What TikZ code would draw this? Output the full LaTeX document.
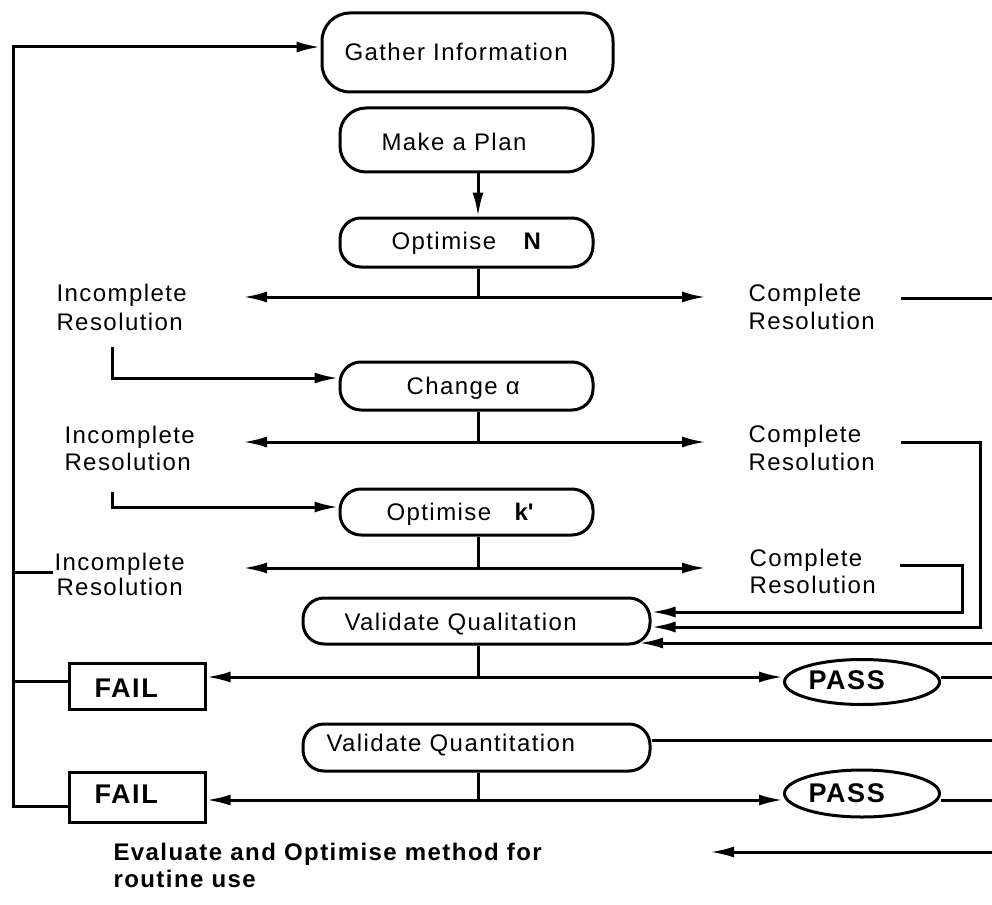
\documentclass[tikz,border=0pt]{standalone}
\usepackage{fontspec}
\setmainfont{Liberation Sans}[LetterSpace=6]
\usetikzlibrary{arrows.meta,shapes.geometric}
\begin{document}
\begin{tikzpicture}[x=1pt,y=-1pt,line width=3pt,
  arr/.style={-{Latex[length=24pt,width=11pt]}},
  rbox/.style 2 args={draw,rounded corners=21pt,minimum width=#1,minimum height=#2,inner sep=0pt},
  sbox/.style 2 args={draw,minimum width=#1,minimum height=#2,inner sep=0pt},
  oval/.style 2 args={draw,ellipse,minimum width=#1,minimum height=#2,inner sep=0pt},
  txt/.style={inner sep=0pt,anchor=base west,font=\fontsize{24}{28}\selectfont},
  btxt/.style={inner sep=0pt,anchor=base west,font=\fontsize{24}{28}\selectfont\bfseries},
  bigtxt/.style={inner sep=0pt,anchor=base west,font=\fontsize{27}{30}\selectfont\bfseries}]
\useasboundingbox (0,0) rectangle (992,904);

% boxes
\node[rbox={291pt}{79pt},rounded corners=28pt] (gi) at (467.5,52.5) {};
\node[txt] (git) at (343,61) {Gather Information};
\node[rbox={253pt}{64pt},rounded corners=26pt] (mp) at (466.5,140) {};
\node[txt] (mpt) at (380,151) {Make a Plan};
\node[rbox={253pt}{49pt}] (on) at (466.5,242.5) {};
\node[txt] (ont) at (390,249) {Optimise};
\node[btxt] (onn) at (522,249) {N};
\node[rbox={253pt}{48pt}] (ca) at (466.5,386) {};
\node[txt] (cat) at (405,394) {Change α};
\node[rbox={253pt}{46pt}] (ok) at (466.5,512) {};
\node[txt] (okt) at (385,520) {Optimise};
\node[btxt] (okk) at (513,520) {k\textquotesingle};
\node[rbox={347pt}{46pt}] (vl) at (476.5,621) {};
\node[txt] (vlt) at (343,630) {Validate Qualitation};
\node[rbox={347pt}{47pt}] (vn) at (476.5,747.5) {};
\node[txt] (vnt) at (325,751) {Validate Quantitation};
\node[sbox={136pt}{46pt}] (f1) at (137,686) {};
\node[bigtxt] (f1t) at (93,697) {FAIL};
\node[sbox={136pt}{50pt}] (f2) at (137,797) {};
\node[bigtxt] (f2t) at (93,803) {FAIL};
\node[oval={155pt}{45pt}] (p1) at (862,682) {};
\node[bigtxt] (p1t) at (807,689) {PASS};
\node[oval={155pt}{47pt}] (p2) at (862,793.5) {};
\node[bigtxt] (p2t) at (807,802) {PASS};

% labels
\node[txt] (i1a) at (55,301) {Incomplete};
\node[txt] (i1b) at (55,330) {Resolution};
\node[txt] (i2a) at (63,443) {Incomplete};
\node[txt] (i2b) at (63,470) {Resolution};
\node[txt] (i3a) at (53,570) {Incomplete};
\node[txt] (i3b) at (55,595) {Resolution};
\node[txt] (c1a) at (747,301) {Complete};
\node[txt] (c1b) at (747,329) {Resolution};
\node[txt] (c2a) at (747,442) {Complete};
\node[txt] (c2b) at (747,470) {Resolution};
\node[txt] (c3a) at (748,566) {Complete};
\node[txt] (c3b) at (748,593) {Resolution};
\node[btxt] (e1) at (112,860) {Evaluate and Optimise method for};
\node[btxt] (e2) at (112,887) {routine use};

% helper coordinates
\coordinate (cx) at (478,0);
\coordinate (j1) at (478,297);
\coordinate (l1) at (243,297);
\coordinate (r1) at (706,297);
\coordinate (j2) at (478,442);
\coordinate (l2) at (243,442);
\coordinate (r2) at (706,442);
\coordinate (j3) at (478,568);
\coordinate (l3) at (243,568);
\coordinate (r3) at (706,568);
\coordinate (j4) at (478,677);
\coordinate (j5) at (478,800);
\coordinate (y378) at (0,378);
\coordinate (y507) at (0,507);
\coordinate (y612) at (0,612);
\coordinate (y627) at (0,627);
\coordinate (y681) at (0,681);
\coordinate (y740) at (0,740);
\coordinate (y806) at (0,806);
\coordinate (y572) at (0,572);
\coordinate (s0) at (13,47);
\coordinate (s1) at (13,806);
\coordinate (b1) at (112,347);
\coordinate (b2) at (112,492);
\coordinate (c1e) at (901,298);
\coordinate (c1f) at (992,298);
\coordinate (c2e) at (901,442);
\coordinate (c2f) at (980,442);
\coordinate (c3e) at (900,565);
\coordinate (c3f) at (962,565);
\coordinate (q0) at (992,643);
\coordinate (q1) at (639,643);
\coordinate (p1o) at (992,677);
\coordinate (vno) at (992,740);
\coordinate (p2o) at (992,800);
\coordinate (ev0) at (992,852);
\coordinate (ev1) at (710,852);
\coordinate (u3) at (53,572);

% main spine
\draw[arr] (cx|-mp.south) -- (cx|-on.north);
\draw (cx|-on.south) -- (j1);
\draw[arr] (j1) -- (l1);
\draw[arr] (j1) -- (r1);
\draw (c1e) -- (c1f);
\draw[arr] (b1) |- (ca.west|-y378);

\draw (cx|-ca.south) -- (j2);
\draw[arr] (j2) -- (l2);
\draw[arr] (j2) -- (r2);
\draw[arr] (c2e) -- (c2f) |- (vl.east|-y627);
\draw[arr] (b2) |- (ok.west|-y507);

\draw (cx|-ok.south) -- (j3);
\draw[arr] (j3) -- (l3);
\draw[arr] (j3) -- (r3);
\draw[arr] (c3e) -- (c3f) |- (vl.east|-y612);
\draw[arr] (q0) -- (q1);

\draw (cx|-vl.south) -- (j4);
\draw[arr] (j4) -- (f1.east|-j4);
\draw[arr] (j4) -- (p1.west|-j4);
\draw (p1.east|-j4) -- (p1o);

\draw (vn.east|-y740) -- (vno);
\draw (cx|-vn.south) -- (j5);
\draw[arr] (j5) -- (f2.east|-j5);
\draw[arr] (j5) -- (p2.west|-j5);
\draw (p2.east|-j5) -- (p2o);

\draw[arr] (ev0) -- (ev1);

% left feedback loop
\draw[arr] (f2.west|-y806) -- (s1) -- (s0) -- (gi.west|-s0);
\draw (f1.west|-y681) -- (s1|-y681);
\draw (s1|-y572) -- (u3);
\end{tikzpicture}
\end{document}
